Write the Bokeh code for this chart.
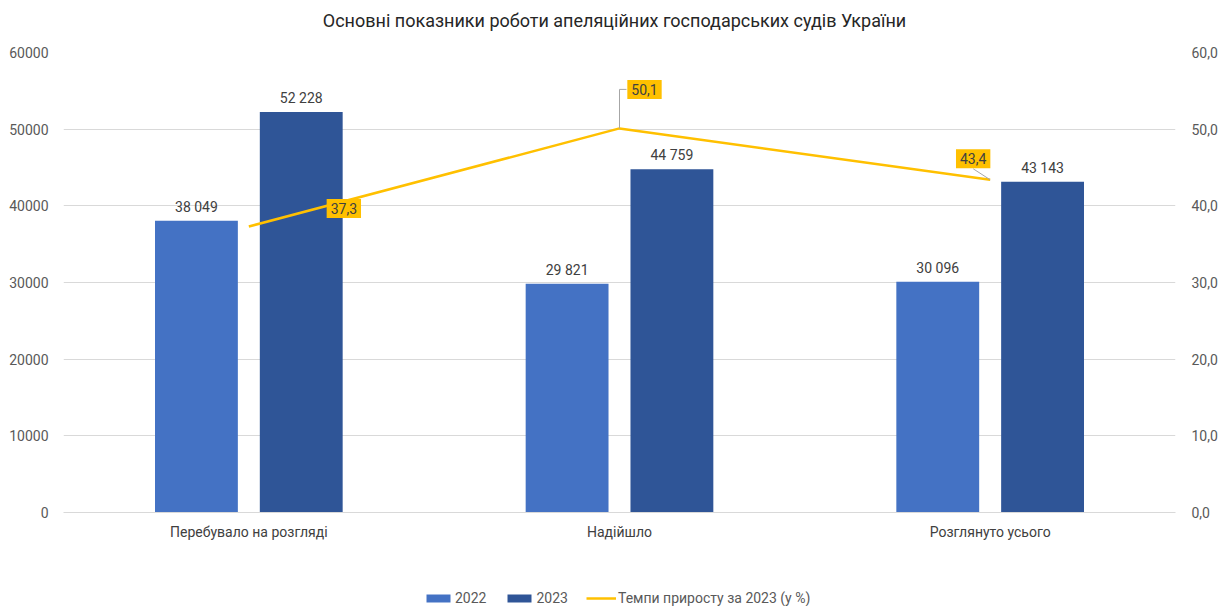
from bokeh.plotting import figure
from bokeh.layouts import column
from bokeh.models import (ColumnDataSource, FactorRange, Range1d, LinearAxis,
                          CustomJSTickFormatter, FixedTicker, Legend, LegendItem)
from bokeh.transform import dodge
from bokeh.core.properties import value
from bokeh.embed import file_html
from bokeh.resources import INLINE

# ---------------- data ----------------
categories = ["Перебувало на розгляді", "Надійшло", "Розглянуто усього"]
values_2022 = [38049, 29821, 30096]
values_2023 = [52228, 44759, 43143]
growth_pct = [37.3, 50.1, 43.4]
left_ticks = [0, 10000, 20000, 30000, 40000, 50000, 60000]
right_ticks = [0, 10, 20, 30, 40, 50, 60]
title_text = "Основні показники роботи апеляційних господарських судів України"
legend_labels = ["2022", "2023", "Темпи приросту за 2023 (у %)"]

# ---------------- style ----------------
FONT = "Roboto"
C22, C23, CLINE = "#4472C4", "#2F5597", "#FFC000"
GRID = "#D9D9D9"
TXT = "#404040"
AX = "#595959"

W = 1220
TITLE_H, LEG_H = 40, 60
ML, MR, MT, MB = 63, 43, 12, 34
FRAME_H = 460
H = MT + FRAME_H + MB
PX_PER_CAT = (W - ML - MR) / 3.0
PX_PER_PCT = FRAME_H / 60.0

def fmt_int(v):
    return f"{v:,}".replace(",", " ")

def fmt_pct(v):
    return f"{v:.1f}".replace(".", ",")

# ---------------- title ----------------
ft = figure(width=W, height=TITLE_H, x_range=Range1d(0, 1), y_range=Range1d(0, 1),
            x_axis_type=None, y_axis_type=None, output_backend="svg",
            toolbar_location=None, min_border=0)
ft.outline_line_color = None
ft.text(x=[0.5], y=[0.5], text=[title_text], x_offset=-5, text_align="center",
        text_baseline="middle", text_font=value(FONT), text_font_size="18px",
        text_color="#262626")

# ---------------- main chart ----------------
p = figure(width=W, height=H, x_range=FactorRange(factors=categories),
           y_range=Range1d(0, 60000), output_backend="svg", toolbar_location=None,
           min_border_left=ML, min_border_right=MR, min_border_top=MT, min_border_bottom=MB)
p.extra_y_ranges = {"pct": Range1d(0, 60)}

p.outline_line_color = None
p.xgrid.visible = False
p.ygrid.grid_line_color = GRID
p.ygrid.ticker = FixedTicker(ticks=left_ticks)

xa = p.xaxis[0]
xa.axis_line_color = GRID
xa.major_tick_line_color = None
xa.major_tick_out = 0
xa.major_tick_in = 0
xa.major_label_standoff = 11
xa.major_label_text_font = FONT
xa.major_label_text_font_size = "14px"
xa.major_label_text_color = TXT

ya = p.yaxis[0]
ya.ticker = FixedTicker(ticks=left_ticks)
ya.formatter = CustomJSTickFormatter(code="return tick.toFixed(0);")
ya.axis_line_color = None
ya.major_tick_line_color = None
ya.minor_tick_line_color = None
ya.major_tick_out = 0
ya.major_tick_in = 0
ya.major_label_standoff = 15
ya.major_label_text_font = FONT
ya.major_label_text_font_size = "14px"
ya.major_label_text_color = AX

ra = LinearAxis(y_range_name="pct", ticker=FixedTicker(ticks=right_ticks),
                formatter=CustomJSTickFormatter(code="return tick.toFixed(1).replace('.', ',');"))
ra.axis_line_color = None
ra.major_tick_line_color = None
ra.minor_tick_line_color = None
ra.major_tick_out = 0
ra.major_tick_in = 0
ra.major_label_standoff = 16
ra.major_label_text_font = FONT
ra.major_label_text_font_size = "14px"
ra.major_label_text_color = AX
p.add_layout(ra, "right")

src = ColumnDataSource(dict(
    cat=categories, v22=values_2022, v23=values_2023, g=growth_pct,
    l22=[fmt_int(v) for v in values_2022],
    l23=[fmt_int(v) for v in values_2023],
    gl=[fmt_pct(v) for v in growth_pct],
    dx=[95, 25, -17], dy=[-18, -39, -21],
))

BW = 83 / PX_PER_CAT
OFF = 52.5 / PX_PER_CAT

p.vbar(x=dodge("cat", -OFF, range=p.x_range), top="v22", width=BW, source=src,
       fill_color=C22, line_color=None)
p.vbar(x=dodge("cat", OFF, range=p.x_range), top="v23", width=BW, source=src,
       fill_color=C23, line_color=None)

for off, col, lab in [(-OFF, "v22", "l22"), (OFF, "v23", "l23")]:
    p.text(x=dodge("cat", off, range=p.x_range), y=col, text=lab, source=src,
           text_align="center", text_baseline="bottom", y_offset=-6,
           text_font=value(FONT), text_font_size="14px", text_color=TXT)

p.line(x="cat", y="g", source=src, y_range_name="pct", line_color=CLINE, line_width=2.5)

# leader lines (gray) from points to callouts
i2 = categories.index("Надійшло") + 0.5
g2 = growth_pct[1]
p.segment(x0=[i2, i2], y0=[g2, g2 + 39 / PX_PER_PCT],
          x1=[i2, i2 + 7 / PX_PER_CAT], y1=[g2 + 39 / PX_PER_PCT, g2 + 39 / PX_PER_PCT],
          y_range_name="pct", line_color="#A6A6A6", line_width=1)
i3 = categories.index("Розглянуто усього") + 0.5
g3 = growth_pct[2]
p.segment(x0=[i3 - 17 / PX_PER_CAT], y0=[g3 + 11 / PX_PER_PCT], x1=[i3], y1=[g3],
          y_range_name="pct", line_color="#A6A6A6", line_width=1)

p.text(x="cat", y="g", text="gl", source=src, y_range_name="pct",
       x_offset="dx", y_offset="dy", text_align="center", text_baseline="middle",
       text_font=value(FONT), text_font_size="14px", text_color=TXT,
       background_fill_color=CLINE, padding=4)

# ---------------- legend strip ----------------
# The key renderers reuse the series with zero bar width and a y range below the
# data, so nothing of them is drawn in this strip except the legend keys.
fl = figure(width=W, height=LEG_H, x_range=FactorRange(factors=categories),
            y_range=Range1d(-120000, -60000), x_axis_type=None, y_axis_type=None,
            output_backend="svg", toolbar_location=None, min_border=0)
fl.outline_line_color = None
k22 = fl.vbar(x="cat", top="v22", width=0, source=src, fill_color=C22, line_color=None)
k23 = fl.vbar(x="cat", top="v23", width=0, source=src, fill_color=C23, line_color=None)
kl = fl.line(x="cat", y="g", source=src, line_color=CLINE, line_width=2.5)
legend = Legend(items=[LegendItem(label=legend_labels[0], renderers=[k22]),
                       LegendItem(label=legend_labels[1], renderers=[k23]),
                       LegendItem(label=legend_labels[2], renderers=[kl])],
                orientation="horizontal", location=(360, 0))
legend.padding = 0
legend.margin = 0
legend.spacing = 18
legend.glyph_width = 30
legend.glyph_height = 10
legend.label_standoff = 2
legend.label_height = 16
legend.label_text_font = FONT
legend.label_text_font_size = "14px"
legend.label_text_color = AX
legend.border_line_color = None
legend.background_fill_alpha = 0
fl.add_layout(legend, "center")

layout = column(ft, p, fl, spacing=0)
open("out.html", "w").write(file_html(layout, INLINE))
